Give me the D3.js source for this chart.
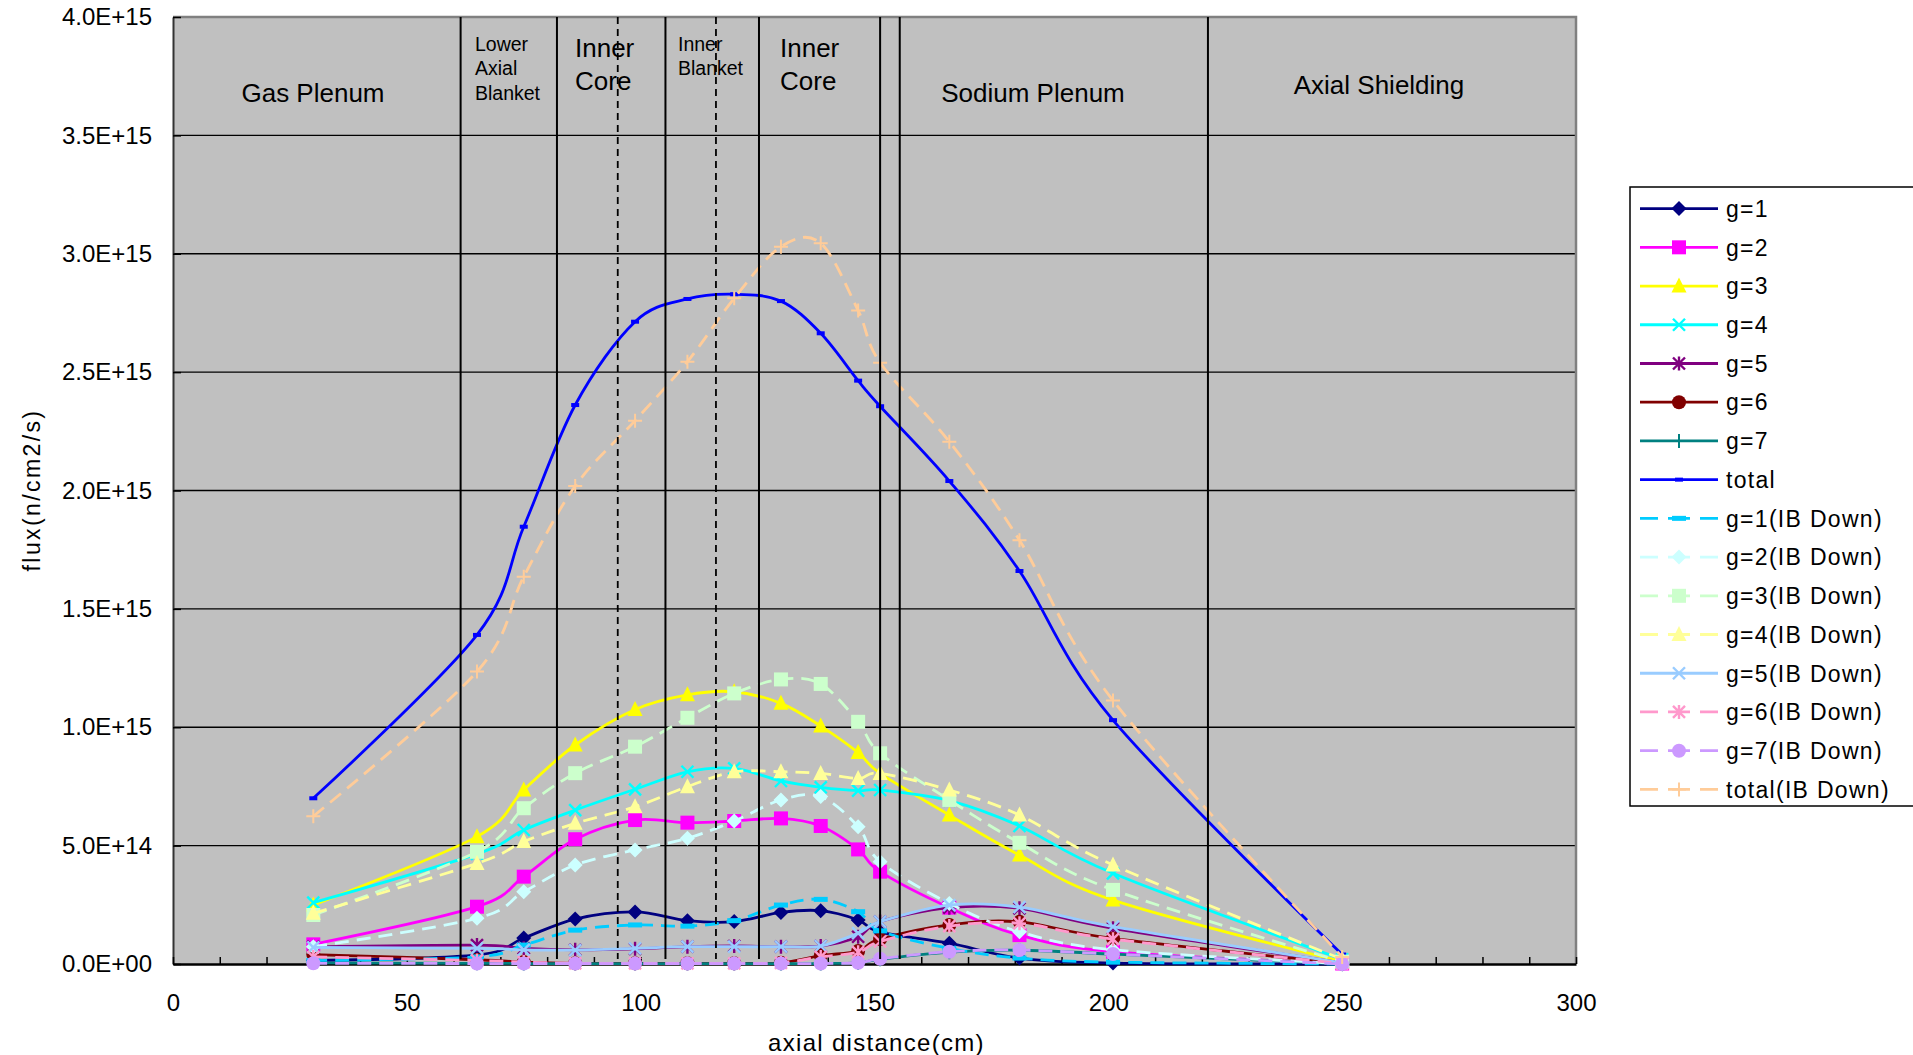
<!DOCTYPE html>
<html>
<head>
<meta charset="utf-8">
<script src="https://cdn.jsdelivr.net/npm/d3@7"></script>
<style>
  body { margin: 0; background: #fff; }
  text { font-family: "Liberation Sans", Arial, sans-serif; fill: #000; }
</style>
</head>
<body>
<svg id="svg"></svg>
<script>
// axial mesh points (cm)
const axialCm = [30, 65, 75, 86, 98.8, 110, 120, 130, 138.5, 146.5, 151.2, 166, 181, 201, 250];

// flux values, in units of 1E+14 n/cm2/s
const g1      = [0.15, 0.38, 1.10, 1.90, 2.20, 1.83, 1.79, 2.18, 2.25, 1.86, 1.35, 0.88, 0.25, 0.04, 0.00];
const g2      = [0.83, 2.42, 3.69, 5.27, 6.08, 5.97, 6.04, 6.15, 5.83, 4.84, 3.90, 2.38, 1.22, 0.52, 0.02];
const g3      = [2.49, 5.38, 7.35, 9.25, 10.75, 11.37, 11.50, 11.01, 10.05, 8.93, 8.05, 6.29, 4.60, 2.70, 0.10];
const g4      = [2.59, 4.65, 5.66, 6.50, 7.38, 8.12, 8.26, 7.73, 7.46, 7.32, 7.35, 6.90, 5.83, 3.83, 0.20];
const g5      = [0.73, 0.80, 0.66, 0.60, 0.64, 0.73, 0.76, 0.73, 0.76, 1.15, 1.79, 2.38, 2.35, 1.51, 0.05];
const g6      = [0.40, 0.18, 0.08, 0.03, 0.03, 0.03, 0.03, 0.05, 0.35, 0.55, 1.05, 1.65, 1.78, 1.08, 0.02];
const g7      = [0.05, 0.03, 0.02, 0.02, 0.02, 0.02, 0.02, 0.02, 0.02, 0.05, 0.20, 0.50, 0.58, 0.42, 0.00];
const total   = [7.00, 13.90, 18.47, 23.61, 27.13, 28.09, 28.29, 28.00, 26.64, 24.64, 23.56, 20.40, 16.60, 10.30, 0.40];
const g1IB    = [0.15, 0.30, 0.80, 1.43, 1.65, 1.60, 1.83, 2.49, 2.73, 2.21, 1.40, 0.66, 0.25, 0.08, 0.00];
const g2IB    = [0.73, 1.93, 3.05, 4.18, 4.82, 5.31, 6.04, 6.93, 7.07, 5.80, 4.32, 2.56, 1.36, 0.60, 0.02];
const g3IB    = [2.07, 4.74, 6.58, 8.06, 9.18, 10.40, 11.43, 12.02, 11.83, 10.23, 8.90, 6.93, 5.12, 3.13, 0.10];
const g4IB    = [2.14, 4.25, 5.17, 5.94, 6.64, 7.49, 8.12, 8.12, 8.05, 7.84, 8.05, 7.35, 6.29, 4.18, 0.20];
const g5IB    = [0.70, 0.66, 0.60, 0.59, 0.66, 0.73, 0.73, 0.73, 0.76, 1.30, 1.79, 2.49, 2.40, 1.58, 0.05];
const g6IB    = [0.30, 0.15, 0.08, 0.03, 0.03, 0.03, 0.03, 0.05, 0.30, 0.50, 0.95, 1.60, 1.72, 1.05, 0.02];
const g7IB    = [0.03, 0.02, 0.02, 0.02, 0.02, 0.02, 0.02, 0.02, 0.02, 0.05, 0.22, 0.52, 0.59, 0.42, 0.00];
const totalIB = [6.24, 12.35, 16.36, 20.19, 22.95, 25.44, 28.12, 30.30, 30.44, 27.60, 25.40, 22.06, 17.90, 11.13, 0.30];

const seriesNames = ["g=1", "g=2", "g=3", "g=4", "g=5", "g=6", "g=7", "total",
  "g=1(IB Down)", "g=2(IB Down)", "g=3(IB Down)", "g=4(IB Down)",
  "g=5(IB Down)", "g=6(IB Down)", "g=7(IB Down)", "total(IB Down)"];
const seriesValues = [g1, g2, g3, g4, g5, g6, g7, total,
  g1IB, g2IB, g3IB, g4IB, g5IB, g6IB, g7IB, totalIB];

const yTickValues = [0, 5, 10, 15, 20, 25, 30, 35, 40];
const yTickLabels = ["0.0E+00", "5.0E+14", "1.0E+15", "1.5E+15", "2.0E+15",
  "2.5E+15", "3.0E+15", "3.5E+15", "4.0E+15"];
const xTickValues = [0, 50, 100, 150, 200, 250, 300];

// region boundaries (cm)
const regionLines = [61.5, 82.1, 105.3, 125.3, 151.2, 155.4, 221.3];
const dashedLines = [95.1, 116.1];

// styles
const styles = [
  { color: "#000080", dash: null, marker: "diamond" },
  { color: "#FF00FF", dash: null, marker: "square" },
  { color: "#FFFF00", dash: null, marker: "triangle" },
  { color: "#00FFFF", dash: null, marker: "x" },
  { color: "#800080", dash: null, marker: "star" },
  { color: "#800000", dash: null, marker: "circle" },
  { color: "#008080", dash: null, marker: "plus" },
  { color: "#0000FF", dash: null, marker: "smallbar" },
  { color: "#00CCFF", dash: "14,8", marker: "bar" },
  { color: "#CCFFFF", dash: "14,8", marker: "diamond" },
  { color: "#CCFFCC", dash: "14,8", marker: "square" },
  { color: "#FFFF99", dash: "14,8", marker: "triangle" },
  { color: "#99CCFF", dash: null, marker: "x" },
  { color: "#FF99CC", dash: "14,8", marker: "star" },
  { color: "#CC99FF", dash: "14,8", marker: "circle" },
  { color: "#FFCC99", dash: "14,8", marker: "plus" }
];

const W = 1913, H = 1055;
const margin = { top: 17, left: 173 };
const width = 1403, height = 947;

const svg = d3.select("#svg").attr("width", W).attr("height", H);

const xScale = d3.scaleLinear().domain([0, 300]).range([0, width]);
const yScale = d3.scaleLinear().domain([0, 40]).range([height, 0]);

const plot = svg.append("g").attr("transform", `translate(${margin.left},${margin.top})`);

// background
plot.append("rect").attr("width", width).attr("height", height).attr("fill", "#C0C0C0");

// gridlines
plot.selectAll(".grid").data(yTickValues.slice(1, -1)).enter().append("line")
  .attr("x1", 0).attr("x2", width)
  .attr("y1", d => yScale(d)).attr("y2", d => yScale(d))
  .attr("stroke", "#000").attr("stroke-width", 1.3);

// border top / right
plot.append("path")
  .attr("d", `M0,0H${width}V${height}`)
  .attr("fill", "none").attr("stroke", "#808080").attr("stroke-width", 2.5);

// axes
const yAxis = plot.append("g")
  .call(d3.axisLeft(yScale).tickValues(yTickValues)
    .tickFormat((d, i) => yTickLabels[i]).tickSize(-8).tickSizeOuter(0).tickPadding(21));
yAxis.selectAll("text").attr("font-size", 24).attr("font-family", "Liberation Sans, Arial, sans-serif");
yAxis.select(".domain").attr("stroke", "#333").attr("stroke-width", 2);
yAxis.selectAll(".tick line").attr("stroke", "#000").attr("stroke-width", 1.5);

const xAxis = plot.append("g").attr("transform", `translate(0,${height})`)
  .call(d3.axisBottom(xScale).tickValues(d3.range(0, 301, 10))
    .tickFormat(d => xTickValues.includes(d) ? d : "")
    .tickSize(-7).tickSizeOuter(0).tickPadding(30));
xAxis.selectAll("text").attr("font-size", 24).attr("font-family", "Liberation Sans, Arial, sans-serif");
xAxis.select(".domain").attr("stroke", "#000").attr("stroke-width", 2.5);
xAxis.selectAll(".tick line").attr("stroke", "#000").attr("stroke-width", 1.5);

// axis titles
svg.append("text")
  .attr("x", margin.left + xScale(150) + 2).attr("y", 1051)
  .attr("text-anchor", "middle").attr("font-size", 24).attr("letter-spacing", 1.3)
  .text("axial distance(cm)");

svg.append("text")
  .attr("transform", "translate(32,490) rotate(-90)")
  .attr("text-anchor", "middle").attr("dy", "0.35em")
  .attr("font-size", 23).attr("letter-spacing", 2.4)
  .text("flux(n/cm2/s)");

// region labels
const labels = plot.append("g");
function addLabel(lines, xPx, yCenters, size, anchor) {
  lines.forEach((t, i) => {
    labels.append("text")
      .attr("x", xPx - margin.left).attr("y", yCenters[i] - margin.top)
      .attr("dy", "0.36em").attr("font-size", size)
      .attr("text-anchor", anchor).text(t);
  });
}
addLabel(["Gas Plenum"], 313, [93], 26, "middle");
addLabel(["Lower", "Axial", "Blanket"], 475, [43.5, 68, 92.5], 19.5, "start");
addLabel(["Inner", "Core"], 575, [48, 80.5], 26, "start");
addLabel(["Inner", "Blanket"], 678, [43.5, 68], 19.5, "start");
addLabel(["Inner", "Core"], 780, [48, 80.5], 26, "start");
addLabel(["Sodium Plenum"], 1033, [93], 26, "middle");
addLabel(["Axial Shielding"], 1379, [85], 26, "middle");

// markers
function drawMarker(g, type, color, x, y) {
  const s = 7.5;
  switch (type) {
    case "diamond":
      g.append("path").attr("d", `M${x},${y - s}L${x + s},${y}L${x},${y + s}L${x - s},${y}Z`).attr("fill", color);
      break;
    case "square":
      g.append("rect").attr("x", x - 7).attr("y", y - 7).attr("width", 14).attr("height", 14).attr("fill", color);
      break;
    case "triangle":
      g.append("path").attr("d", `M${x},${y - 8.5}L${x + 7.5},${y + 6.5}L${x - 7.5},${y + 6.5}Z`).attr("fill", color);
      break;
    case "x":
      g.append("path").attr("d", `M${x - 6},${y - 6}L${x + 6},${y + 6}M${x - 6},${y + 6}L${x + 6},${y - 6}`)
        .attr("stroke", color).attr("stroke-width", 2.4);
      break;
    case "star":
      g.append("path").attr("d", `M${x - 6},${y - 6}L${x + 6},${y + 6}M${x - 6},${y + 6}L${x + 6},${y - 6}M${x},${y - 7}L${x},${y + 7}`)
        .attr("stroke", color).attr("stroke-width", 2.4);
      break;
    case "circle":
      g.append("circle").attr("cx", x).attr("cy", y).attr("r", 7).attr("fill", color);
      break;
    case "plus":
      g.append("path").attr("d", `M${x - 7},${y}L${x + 7},${y}M${x},${y - 7}L${x},${y + 7}`)
        .attr("stroke", color).attr("stroke-width", 2);
      break;
    case "smallbar":
      g.append("rect").attr("x", x - 4).attr("y", y - 2).attr("width", 8).attr("height", 4).attr("fill", color);
      break;
    case "bar":
      g.append("rect").attr("x", x - 7).attr("y", y - 2.5).attr("width", 14).attr("height", 5).attr("fill", color);
      break;
  }
}

// series
const line = d3.line().x(d => xScale(d[0])).y(d => yScale(d[1])).curve(d3.curveCardinal);
seriesValues.forEach((vals, si) => {
  const st = styles[si];
  const pts = axialCm.map((x, i) => [x, vals[i]]);
  const g = plot.append("g");
  g.append("path").attr("d", line(pts))
    .attr("fill", "none").attr("stroke", st.color)
    .attr("stroke-width", 2.8)
    .attr("stroke-dasharray", st.dash);
  pts.forEach(p => drawMarker(g, st.marker, st.color, xScale(p[0]), yScale(p[1])));
});

// region boundary lines (drawn on top)
plot.selectAll(".region").data(regionLines).enter().append("line")
  .attr("x1", d => xScale(d)).attr("x2", d => xScale(d))
  .attr("y1", 0).attr("y2", height - 5)
  .attr("stroke", "#000").attr("stroke-width", 2);
plot.selectAll(".dashed").data(dashedLines).enter().append("line")
  .attr("x1", d => xScale(d)).attr("x2", d => xScale(d))
  .attr("y1", 0).attr("y2", height - 5)
  .attr("stroke", "#000").attr("stroke-width", 1.8).attr("stroke-dasharray", "7,5");

// legend
const legend = svg.append("g");
legend.append("rect").attr("x", 1630).attr("y", 187).attr("width", 320).attr("height", 619)
  .attr("fill", "#fff").attr("stroke", "#000").attr("stroke-width", 1.5);
seriesNames.forEach((name, i) => {
  const st = styles[i];
  const y = 208.6 + i * 38.72;
  legend.append("line").attr("x1", 1640).attr("x2", 1718).attr("y1", y).attr("y2", y)
    .attr("stroke", st.color).attr("stroke-width", 2.8)
    .attr("stroke-dasharray", st.dash ? "18,10,22,10,18" : null);
  drawMarker(legend, st.marker, st.color, 1679, y);
  legend.append("text").attr("x", 1726).attr("y", y).attr("dy", "0.36em")
    .attr("font-size", 23).attr("letter-spacing", 1.3).text(name);
});
</script>
</body>
</html>
